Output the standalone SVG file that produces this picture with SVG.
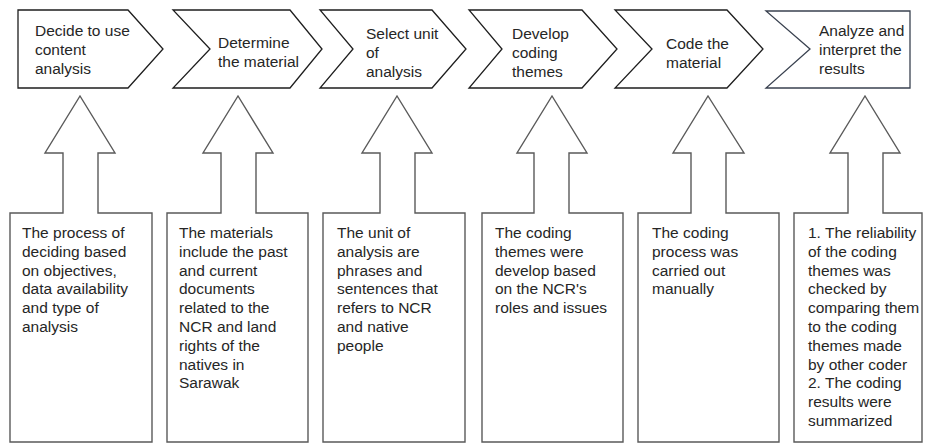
<svg xmlns="http://www.w3.org/2000/svg" width="925" height="444" viewBox="0 0 925 444">
  <style>
    .step { fill: #ffffff; stroke: #1e1e1e; stroke-width: 1.3; stroke-linejoin: miter; }
    .step-last { fill: #ffffff; stroke: #3a4250; stroke-width: 1.3; }
    .callout { fill: #ffffff; stroke: #5a5a5a; stroke-width: 1.4; stroke-linejoin: miter; }
    text { font-family: "Liberation Sans", Arial, sans-serif; font-size: 15.5px; fill: #262626; }
  </style>
  <rect width="925" height="444" fill="#ffffff"/>

  <!-- Process steps (top row) -->
  <g id="step1">
    <path class="step" d="M18,10 H128 L163,49 L128,88 H18 Z"/>
    <text x="35" y="36">Decide to use</text>
    <text x="35" y="55">content</text>
    <text x="35" y="74">analysis</text>
  </g>
  <g id="step2">
    <path class="step" d="M173,10 H290 L322,49 L290,88 H173 L210,49 Z"/>
    <text x="218" y="48">Determine</text>
    <text x="218" y="67">the material</text>
  </g>
  <g id="step3">
    <path class="step" d="M320,10 H432 L466,49 L432,88 H320 L353,49 Z"/>
    <text x="366" y="39">Select unit</text>
    <text x="366" y="58">of</text>
    <text x="366" y="77">analysis</text>
  </g>
  <g id="step4">
    <path class="step" d="M469,10 H582 L617,49 L582,88 H469 L502,49 Z"/>
    <text x="512" y="39">Develop</text>
    <text x="512" y="58">coding</text>
    <text x="512" y="77">themes</text>
  </g>
  <g id="step5">
    <path class="step" d="M615,10 H727 L763,49 L727,88 H615 L652,49 Z"/>
    <text x="666" y="49">Code the</text>
    <text x="666" y="68">material</text>
  </g>
  <g id="step6">
    <path class="step-last" d="M766,11 H910 V88 H766 L810,49 Z"/>
    <text x="819" y="36">Analyze and</text>
    <text x="819" y="55">interpret the</text>
    <text x="819" y="74">results</text>
  </g>

  <!-- Detail callouts pointing up at each step -->
  <g id="detail1">
    <path class="callout" d="M10,213 H63 V153 H45 L80,96 L115,153 H98 V213 H152 V442 H10 Z"/>
    <text x="22" y="238">The process of</text>
    <text x="22" y="256.8">deciding based</text>
    <text x="22" y="275.6">on objectives,</text>
    <text x="22" y="294.4">data availability</text>
    <text x="22" y="313.2">and type of</text>
    <text x="22" y="332">analysis</text>
  </g>
  <g id="detail2">
    <path class="callout" d="M167,213 H221 V153 H203 L238,96 L273,153 H256 V213 H308 V442 H167 Z"/>
    <text x="179" y="238">The materials</text>
    <text x="179" y="256.8">include the past</text>
    <text x="179" y="275.6">and current</text>
    <text x="179" y="294.4">documents</text>
    <text x="179" y="313.2">related to the</text>
    <text x="179" y="332">NCR and land</text>
    <text x="179" y="350.8">rights of the</text>
    <text x="179" y="369.6">natives in</text>
    <text x="179" y="388.4">Sarawak</text>
  </g>
  <g id="detail3">
    <path class="callout" d="M323,213 H380 V153 H362 L397,96 L432,153 H415 V213 H465 V442 H323 Z"/>
    <text x="337" y="238">The unit of</text>
    <text x="337" y="256.8">analysis are</text>
    <text x="337" y="275.6">phrases and</text>
    <text x="337" y="294.4">sentences that</text>
    <text x="337" y="313.2">refers to NCR</text>
    <text x="337" y="332">and native</text>
    <text x="337" y="350.8">people</text>
  </g>
  <g id="detail4">
    <path class="callout" d="M482,213 H534 V153 H517 L552,96 L587,153 H569 V213 H623 V442 H482 Z"/>
    <text x="495" y="238">The coding</text>
    <text x="495" y="256.8">themes were</text>
    <text x="495" y="275.6">develop based</text>
    <text x="495" y="294.4">on the NCR's</text>
    <text x="495" y="313.2">roles and issues</text>
  </g>
  <g id="detail5">
    <path class="callout" d="M638,213 H691 V153 H673 L708,96 L744,153 H726 V213 H779 V442 H638 Z"/>
    <text x="652" y="238">The coding</text>
    <text x="652" y="256.8">process was</text>
    <text x="652" y="275.6">carried out</text>
    <text x="652" y="294.4">manually</text>
  </g>
  <g id="detail6">
    <path class="callout" d="M794,213 H848 V153 H830 L865,96 L900,153 H883 V213 H922 V442 H794 Z"/>
    <text x="808" y="238">1. The reliability</text>
    <text x="808" y="256.8">of the coding</text>
    <text x="808" y="275.6">themes was</text>
    <text x="808" y="294.4">checked by</text>
    <text x="808" y="313.2">comparing them</text>
    <text x="808" y="332">to the coding</text>
    <text x="808" y="350.8">themes made</text>
    <text x="808" y="369.6">by other coder</text>
    <text x="808" y="388.4">2. The coding</text>
    <text x="808" y="407.2">results were</text>
    <text x="808" y="426">summarized</text>
  </g>

  <!-- no separate connectors: the callout arrows carry the links -->
  <g id="connectors"/>
</svg>
